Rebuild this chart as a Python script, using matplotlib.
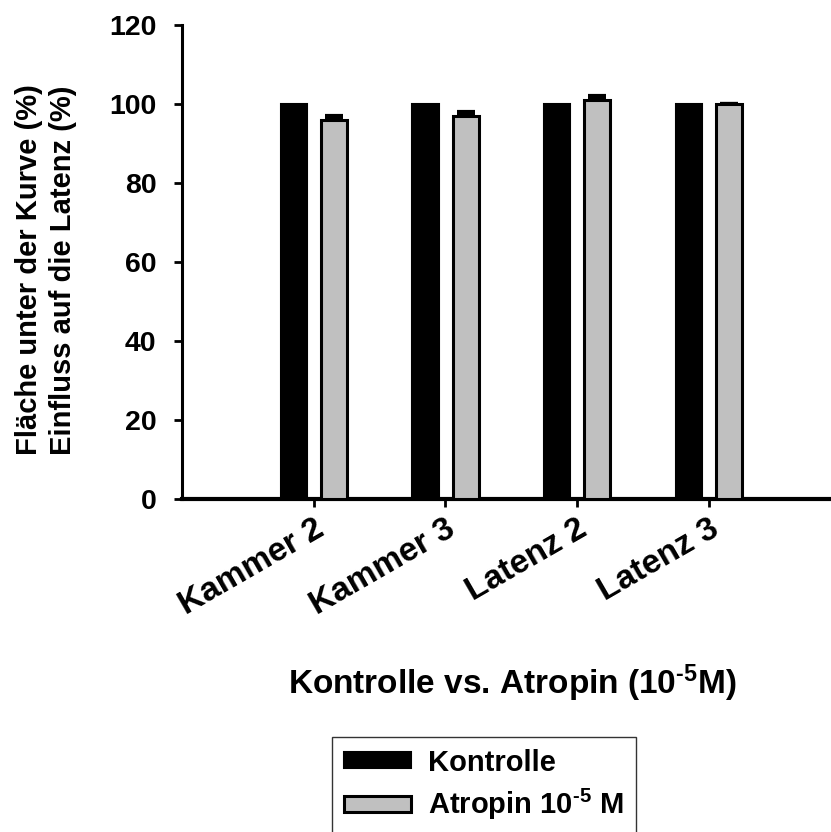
import numpy as np
import matplotlib
matplotlib.use("Agg")
import matplotlib.pyplot as plt
from matplotlib.transforms import ScaledTranslation

plt.rcParams['font.family'] = ['Liberation Sans', 'DejaVu Sans']
plt.rcParams['font.weight'] = 'bold'
plt.rcParams['mathtext.fontset'] = 'custom'
plt.rcParams['mathtext.rm'] = 'Liberation Sans:bold'
plt.rcParams['mathtext.it'] = 'Liberation Sans:bold'
plt.rcParams['mathtext.bf'] = 'Liberation Sans:bold'

categories = ["Kammer 2", "Kammer 3", "Latenz 2", "Latenz 3"]
kontrolle = [100, 100, 100, 100]
atropin = [96, 97, 101, 100]
atropin_err = [1, 1, 1, 0]

fig = plt.figure(figsize=(8.31, 8.32), dpi=100)
ax = fig.add_axes([0.219, 0.4002, 0.781, 0.5698])

x = np.arange(1, len(categories) + 1)
w = 0.2
ax.bar(x - 0.15, kontrolle, width=w, color='black', edgecolor='black',
       linewidth=1.5, label='Kontrolle', zorder=3)
ax.errorbar(x + 0.155, atropin, yerr=[np.zeros(4), atropin_err], fmt='none',
            ecolor='black', elinewidth=2, capsize=6.5, capthick=3, zorder=2)
ax.bar(x + 0.155, atropin, width=w, color='#c0c0c0', edgecolor='black',
       linewidth=2.2, label='Atropin 10$^{\\text{-5}}$ M', zorder=3)

ax.set_xlim(0, 4.93)
ax.set_ylim(0, 120)
ax.set_yticks(range(0, 121, 20))
ax.set_xticks(x)
ax.set_xticklabels(categories, rotation=30, ha='right', rotation_mode='anchor',
                   fontsize=24, fontweight='bold')
shift = ScaledTranslation(1 / 100, 0, fig.dpi_scale_trans)
for lbl in ax.get_xticklabels():
    lbl.set_transform(lbl.get_transform() + shift)
for lbl in ax.get_yticklabels():
    lbl.set_fontsize(20.5)
    lbl.set_fontweight('bold')

ax.spines['top'].set_visible(False)
ax.spines['right'].set_visible(False)
ax.spines['left'].set_linewidth(2.2)
ax.spines['bottom'].set_linewidth(3)
ax.tick_params(axis='both', direction='out', width=2, length=5.5)
ax.tick_params(axis='y', pad=13)
ax.tick_params(axis='x', pad=5)

ax.set_ylabel("Fläche unter der Kurve (%)\nEinfluss auf die Latenz (%)",
              fontsize=21, fontweight='bold', linespacing=1.25)
ax.yaxis.set_label_coords(-0.162, 0.483)
ax.set_xlabel("Kontrolle vs. Atropin (10$^{\\text{-5}}$M)", fontsize=24,
              fontweight='bold', va='top')
ax.xaxis.set_label_coords(0.509, -0.345)

leg = fig.legend(loc='upper center', bbox_to_anchor=(0.5824, 0.1142),
                 borderaxespad=0, fontsize=21, frameon=True, fancybox=False,
                 handlelength=2.3, handleheight=0.45, handletextpad=0.6,
                 borderpad=0.4, labelspacing=0.35)
leg.get_frame().set_edgecolor('black')
leg.get_frame().set_linewidth(1)
for t in leg.get_texts():
    t.set_fontweight('bold')

fig.savefig("out.png", dpi=100)
